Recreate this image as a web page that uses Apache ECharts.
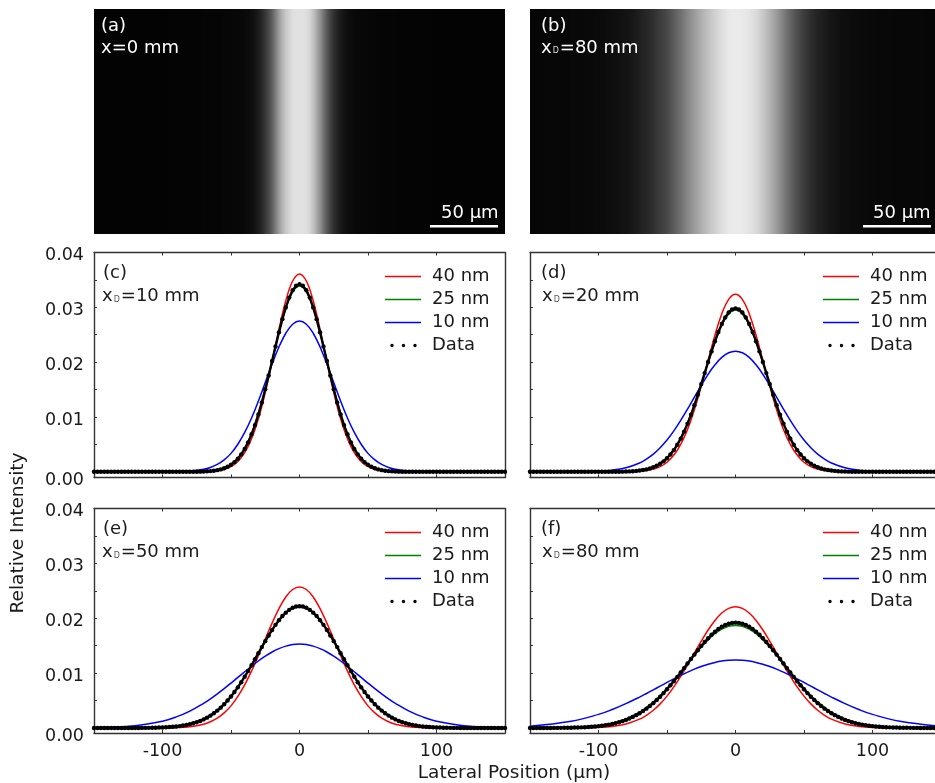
<!DOCTYPE html>
<html><head><meta charset="utf-8">
<style>html,body{margin:0;padding:0;background:#fff;overflow:hidden}#c{width:935px;height:783px}</style>
<script src="https://cdn.jsdelivr.net/npm/echarts@6/dist/echarts.min.js"></script>
</head><body><div id="c"></div>
<script>
const lineX=[-150,-120,-100,-90,-80,-70,-65,-60,-55,-50,-45,-40,-35,-30,-25,-20,-15,-10,-5,0,5,10,15,20,25,30,35,40,45,50,55,60,65,70,80,90,100,120,150];
const dataX=[-150,-147.5,-145,-142.5,-140,-137.5,-135,-132.5,-130,-127.5,-125,-122.5,-120,-117.5,-115,-112.5,-110,-107.5,-105,-102.5,-100,-97.5,-95,-92.5,-90,-87.5,-85,-82.5,-80,-77.5,-75,-72.5,-70,-67.5,-65,-62.5,-60,-57.5,-55,-52.5,-50,-47.5,-45,-42.5,-40,-37.5,-35,-32.5,-30,-27.5,-25,-22.5,-20,-17.5,-15,-12.5,-10,-7.5,-5,-2.5,0,2.5,5,7.5,10,12.5,15,17.5,20,22.5,25,27.5,30,32.5,35,37.5,40,42.5,45,47.5,50,52.5,55,57.5,60,62.5,65,67.5,70,72.5,75,77.5,80,82.5,85,87.5,90,92.5,95,97.5,100,102.5,105,107.5,110,112.5,115,117.5,120,122.5,125,127.5,130,132.5,135,137.5,140,142.5,145,147.5,150];

const imgA=[3,3,3,3,3,3,3,3,3,3,3,3,3,3,3,3,3,3,3,3,3,3,4,4,4,4,4,4,4,4,4,4,5,5,5,5,5,5,6,6,6,7,7,8,9,11,14,20,28,38,55,72,95,125,155,180,200,212,222,225,225,225,222,212,195,170,145,115,88,66,48,36,26,19,14,11,9,8,7,7,6,6,6,5,5,5,5,5,5,4,4,4,4,4,4,4,4,4,4,3,3,3,3,3,3,3,3,3,3,3,3,3,3,3,3,3,3,3,3,3,3];
const imgB=[6,6,6,6,6,7,7,7,7,7,7,7,8,8,8,8,9,9,9,10,10,11,12,13,14,15,16,18,19,21,24,27,31,35,39,43,48,54,60,66,72,82,92,102,112,123,135,145,155,165,175,184,192,200,208,215,222,227,232,234,235,234,233,231,228,223,218,209,200,189,178,167,155,141,127,113,100,89,78,69,60,53,46,40,35,31,28,24,21,19,17,15,14,13,12,12,11,10,10,9,9,9,8,8,8,8,7,7,7,7,7,7,7,7,7,7,6,6,6,6,6];

const redC=[0,0,0,0,0,.00003,.00008,.00019,.00043,.00094,.00188,.00348,.00603,.00967,.01448,.02011,.02599,.03119,.0348,.0361,.0348,.03119,.02599,.02011,.01448,.00967,.00603,.00348,.00188,.00094,.00043,.00019,.00008,.00003,0,0,0,0,0];
const greenC=[0,0,0,0,.00001,.00006,.00015,.00033,.00068,.00136,.0025,.00431,.00698,.01064,.01515,.02024,.02536,.0298,.03282,.0339,.03282,.0298,.02536,.02024,.01515,.01064,.00698,.00431,.0025,.00136,.00068,.00033,.00015,.00006,.00001,0,0,0,0];
const blueC=[0,0,0,.00003,.00013,.00045,.00079,.00134,.00217,.00336,.00503,.00718,.00982,.01293,.01628,.01966,.02277,.02527,.02692,.0275,.02692,.02527,.02277,.01966,.01628,.01293,.00982,.00718,.00503,.00336,.00217,.00134,.00079,.00045,.00013,.00003,0,0,0];
const dataC=[0,0,0,0,0,0,0,0,0,0,
 0,0,0,0,0,0,0,0,0,0,
 0,0,0,0,0,0,0,0,0,0,
 .00002,.00003,.00005,.00009,.00013,.0002,.0003,.00044,.00064,.00091,
 .00128,.00176,.00238,.00318,.00417,.00537,.00684,.00852,.01047,.01265,
 .01505,.01758,.02021,.02285,.02544,.02784,.02999,.03177,.03311,.03393,
 .0342,
 .03393,.03311,.03177,.02999,.02784,.02544,.02285,.02021,.01758,.01505,
 .01265,.01047,.00852,.00684,.00537,.00417,.00318,.00238,.00176,.00128,
 .00091,.00064,.00044,.0003,.0002,.00013,.00009,.00005,.00003,.00002,
 0,0,0,0,0,0,0,0,0,0,
 0,0,0,0,0,0,0,0,0,0,
 0,0,0,0,0,0,0,0,0,0];

const redD=[0,0,0,0,.00002,.00011,.00023,.00049,.00094,.00175,.00305,.00502,.00774,.01134,.01562,.02031,.02492,.02884,.03146,.0324,.03146,.02884,.02492,.02031,.01562,.01134,.00774,.00502,.00305,.00175,.00094,.00049,.00023,.00011,.00002,0,0,0,0];
const greenD=[0,0,0,.00001,.00006,.00024,.00047,.00087,.00153,.00255,.00407,.00617,.00888,.01221,.01599,.01994,.02366,.02676,.02879,.0295,.02879,.02676,.02366,.01994,.01599,.01221,.00888,.00617,.00407,.00255,.00153,.00087,.00047,.00024,.00006,.00001,0,0,0];
const blueD=[0,.00001,.00011,.00029,.00073,.00161,.00231,.00321,.00438,.00579,.00746,.00937,.01144,.0136,.01575,.01778,.01951,.02086,.02171,.022,.02171,.02086,.01951,.01778,.01575,.0136,.01144,.00937,.00746,.00579,.00438,.00321,.00231,.00161,.00073,.00029,.00011,.00001,0];
const dataD=[0,0,0,0,0,0,0,0,0,0,
 0,0,0,0,0,0,0,0,0,0,
 0,0,0,0,0,.00001,.00002,.00003,.00005,.00007,
 .00011,.00016,.00023,.00032,.00044,.00061,.00083,.0011,.00146,.00191,
 .00247,.00316,.00396,.00492,.00605,.00733,.00879,.0104,.01216,.01404,
 .016,.018,.02003,.02196,.02381,.02551,.02697,.02816,.02906,.02962,
 .0298,
 .02962,.02906,.02816,.02697,.02551,.02381,.02196,.02003,.018,.016,
 .01404,.01216,.0104,.00879,.00733,.00605,.00492,.00396,.00316,.00247,
 .00191,.00146,.0011,.00083,.00061,.00044,.00032,.00023,.00016,.00011,
 .00007,.00005,.00003,.00002,.00001,0,0,0,0,0,
 0,0,0,0,0,0,0,0,0,0,
 0,0,0,0,0,0,0,0,0,0];

const redE=[0,0,.00002,.00006,.00023,.00069,.00113,.00179,.00275,.00403,.00576,.00786,.01038,.01321,.01619,.01912,.02177,.02388,.02524,.0257,.02524,.02388,.02177,.01912,.01619,.01321,.01038,.00786,.00576,.00403,.00275,.00179,.00113,.00069,.00023,.00006,.00002,0,0];
const greenE=[0,.00001,.00011,.00029,.00073,.00161,.00232,.00323,.0044,.00581,.00749,.00941,.01149,.01366,.01582,.01786,.0196,.02095,.02181,.0221,.02181,.02095,.0196,.01786,.01582,.01366,.01149,.00941,.00749,.00581,.0044,.00323,.00232,.00161,.00073,.00029,.00011,.00001,0];
const blueE=[.00006,.00042,.00125,.00202,.00309,.0045,.00532,.00623,.00718,.00819,.00923,.01025,.01126,.01221,.01308,.01385,.01446,.01492,.01521,.0153,.01521,.01492,.01446,.01385,.01308,.01221,.01126,.01025,.00923,.00819,.00718,.00623,.00532,.0045,.00309,.00202,.00125,.00042,.00006];
const dataE=[0,0,0,0,0,0,0,0,0,0,
 0,0,0,.00001,.00002,.00002,.00003,.00004,.00006,.00008,
 .0001,.00013,.00017,.00022,.00028,.00035,.00045,.00056,.0007,.00086,
 .00106,.00129,.00157,.00189,.00226,.00269,.00317,.00371,.00433,.005,
 .00575,.00655,.00741,.00835,.00935,.01037,.01143,.01254,.01363,.01474,
 .01583,.01687,.01787,.0188,.01965,.0204,.02102,.02153,.02191,.02213,
 .0222,
 .02213,.02191,.02153,.02102,.0204,.01965,.0188,.01787,.01687,.01583,
 .01474,.01363,.01254,.01143,.01037,.00935,.00835,.00741,.00655,.00575,
 .005,.00433,.00371,.00317,.00269,.00226,.00189,.00157,.00129,.00106,
 .00086,.0007,.00056,.00045,.00035,.00028,.00022,.00017,.00013,.0001,
 .00008,.00006,.00004,.00003,.00002,.00002,.00001,0,0,0,
 0,0,0,0,0,0,0,0,0,0];

const redF=[0,.00001,.00011,.00029,.00073,.00161,.00232,.00323,.0044,.00581,.00749,.00941,.01149,.01366,.01582,.01786,.0196,.02095,.02181,.0221,.02181,.02095,.0196,.01786,.01582,.01366,.01149,.00941,.00749,.00581,.0044,.00323,.00232,.00161,.00073,.00029,.00011,.00001,0];
const greenF=[0,.00008,.00041,.00086,.00165,.0029,.00376,.00477,.00593,.00724,.00866,.01017,.01174,.01328,.01475,.01606,.01717,.01801,.01853,.0187,.01853,.01801,.01717,.01606,.01475,.01328,.01174,.01017,.00866,.00724,.00593,.00477,.00376,.0029,.00165,.00086,.00041,.00008,0];
const blueF=[.00033,.00123,.00248,.00337,.00444,.00564,.00629,.00696,.00763,.0083,.00895,.00959,.01018,.01073,.01121,.01163,.01195,.0122,.01235,.0124,.01235,.0122,.01195,.01163,.01121,.01073,.01018,.00959,.00895,.0083,.00763,.00696,.00629,.00564,.00444,.00337,.00248,.00123,.00033];
const dataF=[0,0,0,0,0,.00001,.00001,.00002,.00002,.00003,
 .00004,.00005,.00006,.00008,.0001,.00012,.00015,.00018,.00023,.00028,
 .00035,.00042,.00052,.00061,.00075,.00088,.00106,.00125,.00148,.00173,
 .00202,.00234,.00269,.00309,.00353,.00401,.00453,.00509,.0057,.00636,
 .00705,.00778,.00852,.00931,.01012,.01092,.01175,.01258,.01338,.01417,
 .01494,.01567,.01636,.01699,.01755,.01803,.01845,.01878,.01901,.01915,
 .0192,
 .01915,.01901,.01878,.01845,.01803,.01755,.01699,.01636,.01567,.01494,
 .01417,.01338,.01258,.01175,.01092,.01012,.00931,.00852,.00778,.00705,
 .00636,.0057,.00509,.00453,.00401,.00353,.00309,.00269,.00234,.00202,
 .00173,.00148,.00125,.00106,.00088,.00075,.00061,.00052,.00042,.00035,
 .00028,.00023,.00018,.00015,.00012,.0001,.00008,.00006,.00005,.00004,
 .00003,.00002,.00002,.00001,.00001,0,0,0,0,0];

const seriesNames=['40 nm','25 nm','10 nm','Data'];
const panelLabels=['(c)','(d)','(e)','(f)'];
const panelDist=['10 mm','20 mm','50 mm','80 mm'];
const yMax=.04;
const yMinorTicks=[0,.005,.01,.015,.02,.025,.03,.035,.04];
const yLabelTicks=[.01,.02,.03,.04];

const FONT='DejaVu Sans', INK='#1a1a1a', AXC='#333', FS=17.5;
const panels=[
 {l:94,t:252.5,h:225,ymin:-.00104,r:redC,g:greenC,b:blueC,d:dataC,ly:true,lx:false,lg:291},
 {l:530,t:252.5,h:225,ymin:-.00104,r:redD,g:greenD,b:blueD,d:dataD,ly:false,lx:false,lg:293},
 {l:94,t:508.5,h:224.5,ymin:-.00091,r:redE,g:greenE,b:blueE,d:dataE,ly:true,lx:true,lg:291},
 {l:530,t:508.5,h:224.5,ymin:-.00091,r:redF,g:greenF,b:blueF,d:dataF,ly:false,lx:true,lg:293}
];
const W=411;
const gridBase={outerBoundsMode:'none',containLabel:false};
const grid=[{...gridBase,left:94,top:9,width:W,height:225},{...gridBase,left:530,top:9,width:W,height:225}];
const xAxis=[],yAxis=[],series=[],legend=[],title=[];
[imgA,imgB].forEach((v,k)=>{
  xAxis.push({type:'value',gridIndex:k,min:-150,max:150,show:false});
  yAxis.push({type:'value',gridIndex:k,min:0,max:1,show:false});
  const stops=v.map((g,i)=>({offset:i/(v.length-1),color:`rgb(${g},${g},${g})`}));
  series.push({type:'custom',name:k?'imgB':'imgA',xAxisIndex:k,yAxisIndex:k,silent:true,clip:false,
    encode:{x:0,y:1},data:v.map((g,i)=>[dataX[i],0,g]),
    renderItem:(params,api)=>{
      if(params.dataIndex!==0) return null;
      const a=api.coord([-150,1]), b=api.coord([150,0]);
      return {type:'rect',shape:{x:a[0],y:a[1],width:b[0]-a[0],height:b[1]-a[1]},
        style:{fill:new echarts.graphic.LinearGradient(0,0,1,0,stops)}};
    }});
});
const pair=(xs,ys)=>xs.map((x,i)=>[x,ys[i]]);
const tick={show:true,inside:true,length:3,lineStyle:{color:AXC,width:1}};
const line={show:true,onZero:false,lineStyle:{color:AXC,width:1.4}};
const bar=c=>({icon:'path://M0 0H36V1.5H0Z',itemStyle:{color:c}});
const dot=x=>`M${x-1.7} 2a1.7 1.7 0 1 0 3.4 0a1.7 1.7 0 1 0-3.4 0`;
const dotsIcon='path://M0 .3h.01M36 3.7h.01'+dot(7)+dot(18.5)+dot(30);
panels.forEach((p,k)=>{
  const gi=k+2;
  grid.push({...gridBase,left:p.l,top:p.t,width:W,height:p.h});
  xAxis.push({type:'value',gridIndex:gi,min:-150,max:150,interval:50,splitLine:{show:false},axisLine:line,axisTick:tick,
    axisLabel:{show:p.lx,margin:9,fontFamily:FONT,fontSize:FS,color:INK,showMinLabel:false,showMaxLabel:false,
      formatter:v=>v%100===0?String(v):''}});
  yAxis.push({type:'value',gridIndex:gi,min:p.ymin,max:yMax,splitLine:{show:false},axisLine:line,
    axisTick:{...tick,customValues:yMinorTicks},
    axisLabel:{show:p.ly,customValues:[p.ymin,...yLabelTicks],margin:10,fontFamily:FONT,fontSize:FS,color:INK,
      rich:{a:{fontFamily:FONT,fontSize:FS,color:INK,padding:[6,0,0,0]}},
      formatter:v=>'{a|'+(v<0?'0.00':v.toFixed(2))+'}'}});
});
panels.forEach((p,k)=>{
  const gi=k+2;
  xAxis.push({type:'value',gridIndex:gi,position:'top',min:-150,max:150,interval:50,splitLine:{show:false},axisLine:line,axisTick:tick,axisLabel:{show:false}});
  yAxis.push({type:'value',gridIndex:gi,position:'right',min:p.ymin,max:yMax,splitLine:{show:false},axisLine:line,axisTick:{show:false},axisLabel:{show:false}});
  [[p.r,'#ff0000',0],[p.g,'#008000',1],[p.b,'#0000ff',2]].forEach(([ys,c,n])=>{
    series.push({type:'line',name:seriesNames[n],xAxisIndex:gi,yAxisIndex:gi,data:pair(lineX,ys),smooth:.4,symbol:'none',
      lineStyle:{color:c,width:1.5},itemStyle:{color:c},z:2+n,silent:true,animation:false});
  });
  series.push({type:'line',name:'Data',xAxisIndex:gi,yAxisIndex:gi,data:pair(dataX,p.d),symbol:'circle',symbolSize:4.4,showSymbol:true,
    lineStyle:{width:2.4,color:'#000'},itemStyle:{color:'#000'},z:6,silent:true,animation:false});
  legend.push({show:true,orient:'vertical',left:p.l+p.lg,top:p.t+15,padding:0,itemWidth:36,itemHeight:14,itemGap:5,selectedMode:false,
    textStyle:{fontFamily:FONT,fontSize:18,color:INK,padding:[0,0,0,6]},
    data:[{name:'40 nm',...bar('#ff0000')},{name:'25 nm',...bar('#008000')},{name:'10 nm',...bar('#0000ff')},
      {name:'Data',icon:dotsIcon,itemStyle:{color:'#000'}}]});
});
const main=(c)=>({fontFamily:FONT,fontSize:18,fontWeight:'normal',color:c});
function label(text,x,y,c){
  title.push({text,left:x,top:y,padding:0,textStyle:{...main(c),rich:{
    s:{fontFamily:FONT,fontSize:8,fontWeight:'normal',color:c==='#fff'?'#ddd':'#555',padding:[6,1,0,1]},m:main(c)}}});
}
label('(a)',101,17,'#fff');
label('x=0 mm',101,39,'#fff');
label('(b)',541,17,'#fff');
label('{m|x}{s|D}{m|=80 mm}',541,39,'#fff');
label('50 µm',441,204,'#fff');
label('50 µm',873,204,'#fff');
panels.forEach((p,k)=>{
  const lx=k%2?p.l+11:p.l+9, dx=k%2?p.l+12:p.l+8;
  label(panelLabels[k],lx,p.t+12,INK);
  label('{m|x}{s|D}{m|='+panelDist[k]+'}',dx,p.t+35,INK);
});
const option={animation:false,backgroundColor:'#fff',grid,xAxis,yAxis,series,legend,title,
  graphic:[
    {type:'rect',z:50,shape:{x:430,y:225,width:68,height:2.4},style:{fill:'#fff'}},
    {type:'rect',z:50,shape:{x:863,y:225,width:68,height:2.4},style:{fill:'#fff'}},
    {type:'text',z:50,x:18,y:533,rotation:Math.PI/2,style:{text:'Relative Intensity',fontFamily:FONT,fontSize:18.5,fill:INK,align:'center',verticalAlign:'middle'}},
    {type:'text',z:50,x:514,y:773,style:{text:'Lateral Position (µm)',fontFamily:FONT,fontSize:18.5,fill:INK,align:'center',verticalAlign:'middle'}}
  ]};
echarts.init(document.getElementById('c'),null,{renderer:'canvas'}).setOption(option);
</script></body></html>
